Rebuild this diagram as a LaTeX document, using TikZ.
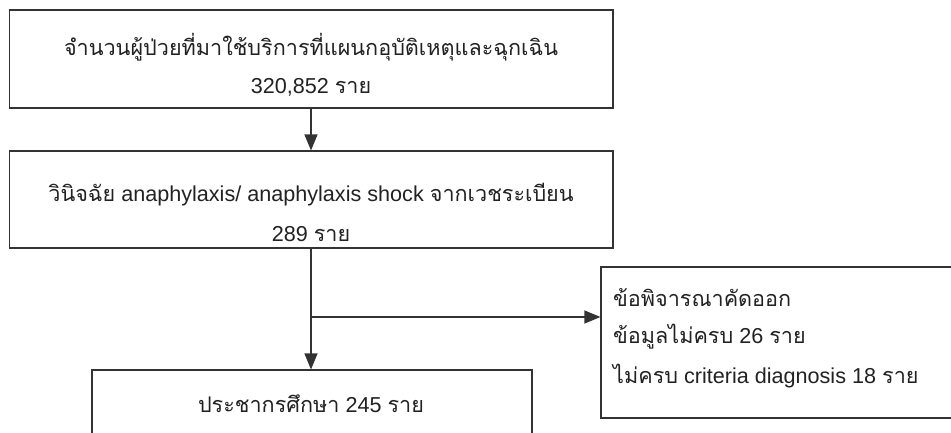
\documentclass[tikz,border=0pt]{standalone}
\usepackage{fontspec}
\setmainfont{Liberation Sans}
\newfontfamily\thai[Script=Thai]{Loma}
\usetikzlibrary{arrows.meta}
\definecolor{linecol}{HTML}{333333}
\definecolor{txtcol}{HTML}{222222}
\tikzset{
  box/.style={draw=linecol, line width=1.1pt, rectangle, inner sep=0pt},
  conn/.style={draw=linecol, line width=1.1pt},
  arr/.style={conn, -{Triangle[length=16pt,width=13pt]}},
  lbl/.style={text=txtcol, font=\fontsize{21.6}{25}\selectfont, inner sep=0pt, anchor=base},
  lbll/.style={lbl, anchor=base west}
}
\begin{document}
\begin{tikzpicture}[x=1pt,y=-1pt]
\clip (0,0) rectangle (951,432);
\fill[white] (0,0) rectangle (951,432);
% boxes
\node[box, minimum width=603.5pt, minimum height=98pt] (b1) at (311.25,59) {};
\node[box, minimum width=603.5pt, minimum height=97pt] (b2) at (311.25,199.5) {};
\node[box, minimum width=440pt, minimum height=100pt] (b3) at (312,420) {};
\node[box, minimum width=359pt, minimum height=151pt] (b4) at (780.5,342.5) {};
% texts
\node[lbl] (t1a) at (311,55) {\thai จำนวนผู้ป่วยที่มาใช้บริการที่แผนกอุบัติเหตุและฉุกเฉิน};
\node[lbl] (t1b) at (311,93) {320,852 {\thai ราย}};
\node[lbl] (t2a) at (311,201) {{\thai วินิจฉัย} anaphylaxis/ anaphylaxis shock {\thai จากเวชระเบียน}};
\node[lbl] (t2b) at (311,241) {289 {\thai ราย}};
\node[lbl] (t3) at (311,412) {{\thai ประชากรศึกษา} 245 {\thai ราย}};
\node[lbll] (t4a) at (613,306) {\thai ข้อพิจารณาคัดออก};
\node[lbll] (t4b) at (613,343) {{\thai ข้อมูลไม่ครบ} 26 {\thai ราย}};
\node[lbll] (t4c) at (613,383) {{\thai ไม่ครบ} criteria diagnosis 18 {\thai ราย}};
% connectors
\coordinate (split) at (311,317);
\draw[arr] (b1.south -| split) -- (b2.north -| split);
\draw[conn] (b2.south -| split) -- (split);
\draw[arr] (split) -- (b3.north -| split);
\draw[arr] (split) -- (split -| b4.west);
\end{tikzpicture}
\end{document}
